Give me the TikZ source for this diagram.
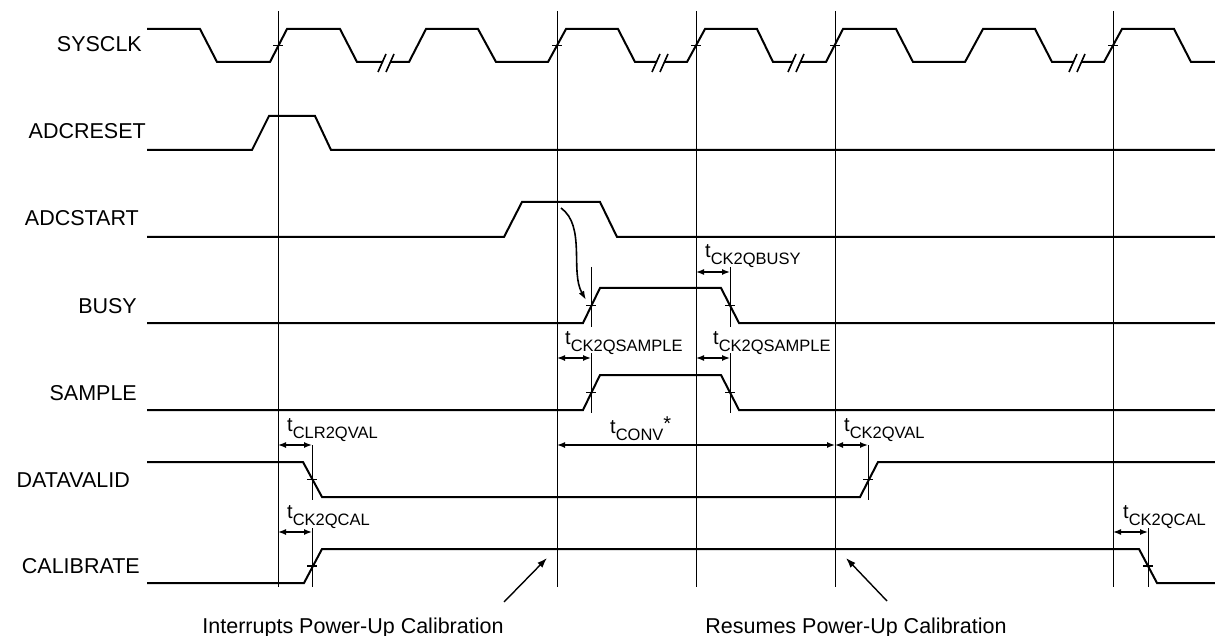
\documentclass[tikz,border=0pt]{standalone}
\usepackage{fontspec}
\setmainfont{Liberation Sans}
\usetikzlibrary{arrows.meta}
\newcommand{\tlab}[1]{t\raisebox{-7pt}{\fontsize{16.5}{18}\selectfont #1}}
\tikzset{
  sig/.style={line width=2pt, line join=miter, line cap=butt},
  grid/.style={line width=1pt},
  tickv/.style={line width=1pt},
  tick/.style={line width=1.6pt},
  brk/.style={line width=1.6pt},
  dim/.style={line width=1.4pt, {Latex[length=8pt,width=6pt]}-{Latex[length=8pt,width=6pt]}},
  ann/.style={line width=1.4pt, -{Latex[length=10pt,width=7pt]}},
  siglabel/.style={anchor=base east, inner sep=0pt, font=\fontsize{21.5}{24}\selectfont},
  tlabel/.style={anchor=base west, inner sep=0pt, font=\fontsize{20}{22}\selectfont},
  note/.style={anchor=base, inner sep=0pt, font=\fontsize{21.5}{24}\selectfont}
}
\begin{document}
\begin{tikzpicture}[x=1pt,y=-1pt]
\useasboundingbox (0,0) rectangle (1215,636);
% vertical reference lines
\foreach \n/\x in {1/278,2/557,3/696,4/835,5/1113}{
  \coordinate (L\n t) at (\x,11);
  \coordinate (L\n b) at (\x,587);
  \draw[grid] (L\n t) -- (L\n b);
}
% signal labels
\node[siglabel] (lsys) at (142,52) {SYSCLK};
\node[siglabel] (lrst) at (146,139) {ADCRESET};
\node[siglabel] (lstart) at (139,226) {ADCSTART};
\node[siglabel] (lbusy) at (137,313) {BUSY};
\node[siglabel] (lsample) at (137,400) {SAMPLE};
\node[siglabel] (ldv) at (130,487) {DATAVALID};
\node[siglabel] (lcal) at (140,573) {CALIBRATE};
% SYSCLK
\draw[sig] (147,29) -- (200,29) -- (217,62) -- (270,62) -- (287,29) -- (340,29) -- (357,62) -- (383,62);
\draw[sig] (391,62) -- (409,62) -- (426,29) -- (478,29) -- (496,62) -- (548,62) -- (566,29) -- (618,29) -- (635,62) -- (657,62);
\draw[sig] (665,62) -- (687,62) -- (705,29) -- (757,29) -- (773,62) -- (793,62);
\draw[sig] (801,62) -- (826,62) -- (843,29) -- (896,29) -- (913,62) -- (965,62) -- (983,29) -- (1035,29) -- (1052,62) -- (1074,62);
\draw[sig] (1082,62) -- (1104,62) -- (1122,29) -- (1174,29) -- (1191,62) -- (1215,62);
\foreach \c in {387,661,797,1078}{
  \draw[brk] (\c-9,72) -- (\c-1,54);
  \draw[brk] (\c-1,72) -- (\c+7,54);
}
\foreach \x in {278,557,696,835,1113}{
  \draw[tick] (\x-5,45.5) -- (\x+5,45.5);
}
% ADCRESET
\draw[sig] (147,150) -- (252,150) -- (269,116) -- (315,116) -- (331,150) -- (1215,150);
% ADCSTART
\draw[sig] (147,237) -- (504,237) -- (522,202) -- (600,202) -- (617,237) -- (1215,237);
% BUSY
\draw[sig] (147,323) -- (583,323) -- (600,288) -- (721,288) -- (739,323) -- (1215,323);
% SAMPLE
\draw[sig] (147,410) -- (583,410) -- (600,375) -- (721,375) -- (739,410) -- (1215,410);
% DATAVALID
\draw[sig] (147,462) -- (303,462) -- (322,497) -- (860,497) -- (878,462) -- (1215,462);
% CALIBRATE
\draw[sig] (147,583) -- (304,583) -- (322,549) -- (1139,549) -- (1157,583) -- (1215,583);
% crossing markers
\coordinate (bR) at (591,267); \coordinate (bRb) at (591,327);
\coordinate (bF) at (730,267); \coordinate (bFb) at (730,327);
\coordinate (sR) at (591,353); \coordinate (sRb) at (591,413);
\coordinate (sF) at (730,353); \coordinate (sFb) at (730,413);
\coordinate (dF) at (312,445); \coordinate (dFb) at (312,500);
\coordinate (dR) at (868,445); \coordinate (dRb) at (868,500);
\coordinate (cR) at (312,528); \coordinate (cRb) at (312,587);
\coordinate (cF) at (1148,528); \coordinate (cFb) at (1148,587);
\foreach \a/\b in {bR/bRb,bF/bFb,sR/sRb,sF/sFb,dF/dFb,dR/dRb,cR/cRb,cF/cFb}{
  \draw[tickv] (\a) -- (\b);
}
\foreach \x/\y in {591/305.5,730/305.5,591/392.5,730/392.5,312/479.5,868/479.5,312/566,1148/566}{
  \draw[tick] (\x-5,\y) -- (\x+5,\y);
}
% timing dimension arrows
\draw[dim] (696,272) -- (730,272);
\node[tlabel] (tbusy) at (705,258) {\tlab{CK2QBUSY}};
\draw[dim] (557,358) -- (591,358);
\node[tlabel] (tsamp1) at (565,344) {\tlab{CK2QSAMPLE}};
\draw[dim] (696,358) -- (730,358);
\node[tlabel] (tsamp2) at (713,344) {\tlab{CK2QSAMPLE}};
\draw[dim] (278,445) -- (312,445);
\node[tlabel] (tclr) at (287,431) {\tlab{CLR2QVAL}};
\draw[dim] (557,445) -- (835,445);
\node[tlabel] (tconv) at (610,433) {\tlab{CONV}\raisebox{3pt}{*}};
\draw[dim] (835,445) -- (868,445);
\node[tlabel] (tval) at (844,431) {\tlab{CK2QVAL}};
\draw[dim] (278,532) -- (312,532);
\node[tlabel] (tcal1) at (287,518) {\tlab{CK2QCAL}};
\draw[dim] (1113,532) -- (1148,532);
\node[tlabel] (tcal2) at (1123,518) {\tlab{CK2QCAL}};
% causal arrow ADCSTART -> BUSY
\coordinate (cs) at (561,208);
\coordinate (ce) at (586,300);
\draw[line width=1.6pt, -{Latex[length=9pt,width=6pt]}] (cs) .. controls (586,226) and (570,272) .. (ce);
% bottom notes
\node[note] (n1) at (353,633) {Interrupts Power-Up Calibration};
\node[note] (n2) at (856,633) {Resumes Power-Up Calibration};
\coordinate (a1s) at (504,602); \coordinate (a1e) at (547,558);
\coordinate (a2s) at (887,601); \coordinate (a2e) at (846,558);
\draw[ann] (a1s) -- (a1e);
\draw[ann] (a2s) -- (a2e);
\end{tikzpicture}
\end{document}
